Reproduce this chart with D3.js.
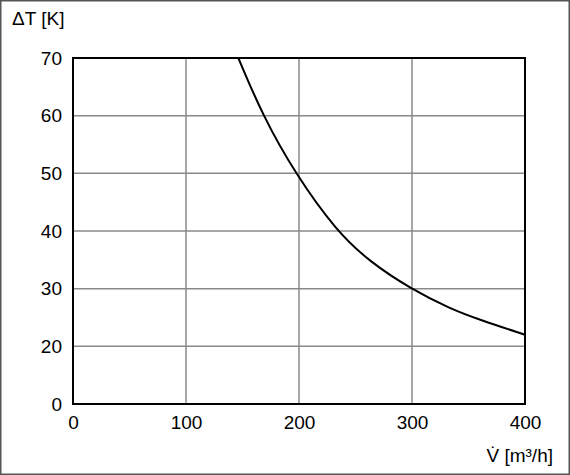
<!DOCTYPE html>
<html>
<head>
<meta charset="utf-8">
<script src="https://cdn.jsdelivr.net/npm/d3@7"></script>
<style>
  body { margin: 0; background: #fff; }
  text { font-family: "Liberation Sans Narrow", "Liberation Sans", Arial, sans-serif; fill: #000; }
</style>
</head>
<body>
<script>
// values
var volume = [146.3, 167.9, 196.5, 233, 263, 298.7, 334, 360, 400];
var deltaT = [70, 60, 50, 40, 34.6, 30, 26.5, 24.6, 22.0];
var xTicks = [0, 100, 200, 300, 400];
var yTicks = [10, 20, 30, 40, 50, 60, 70];
var yTickLabels = ["0", "20", "30", "40", "50", "60", "70"];

var W = 570, H = 475;
var plot = { left: 73, right: 525, top: 58, bottom: 404 };

var svg = d3.select("body").append("svg")
            .attr("width", W)
            .attr("height", H);

svg.append("rect")
   .attr("x", 0.75).attr("y", 0.75)
   .attr("width", W - 1.5).attr("height", H - 1.5)
   .attr("fill", "none")
   .attr("stroke", "#555")
   .attr("stroke-width", 1.5);

var x = d3.scaleLinear().domain([0, 400]).range([plot.left, plot.right]);
var y = d3.scaleLinear().domain([10, 70]).range([plot.bottom, plot.top]);

// grid
svg.append("g").selectAll("line")
   .data(xTicks.slice(1, -1))
   .enter().append("line")
   .attr("x1", function(d){return x(d);})
   .attr("x2", function(d){return x(d);})
   .attr("y1", plot.top).attr("y2", plot.bottom)
   .attr("stroke", "#8a8a8a").attr("stroke-width", 1.5);

svg.append("g").selectAll("line")
   .data(yTicks.slice(1, -1))
   .enter().append("line")
   .attr("y1", function(d){return y(d);})
   .attr("y2", function(d){return y(d);})
   .attr("x1", plot.left).attr("x2", plot.right)
   .attr("stroke", "#8a8a8a").attr("stroke-width", 1.5);

// axes (labels only, frame drawn separately)
var xAxis = d3.axisBottom(x).tickValues(xTicks).tickSize(0).tickPadding(12);
var gx = svg.append("g")
   .attr("transform", "translate(0," + plot.bottom + ")")
   .call(xAxis);
gx.select(".domain").remove();
gx.selectAll("text").style("font-size", "19px").style("font-family", null);

var yAxis = d3.axisLeft(y).tickValues(yTicks).tickSize(0).tickPadding(11)
   .tickFormat(function(d, i){return yTickLabels[i];});
var gy = svg.append("g")
   .attr("transform", "translate(" + plot.left + ",0)")
   .call(yAxis);
gy.select(".domain").remove();
gy.selectAll("text").style("font-size", "19px").style("font-family", null);

// curve
var line = d3.line()
   .x(function(d, i){return x(volume[i]);})
   .y(function(d){return y(d);})
   .curve(d3.curveBasis);

svg.append("path")
   .datum(deltaT)
   .attr("d", line)
   .attr("fill", "none")
   .attr("stroke", "#000")
   .attr("stroke-width", 2);

// frame
svg.append("rect")
   .attr("x", plot.left).attr("y", plot.top)
   .attr("width", plot.right - plot.left)
   .attr("height", plot.bottom - plot.top)
   .attr("fill", "none")
   .attr("stroke", "#000")
   .attr("stroke-width", 2);

// axis titles
svg.append("text")
   .attr("x", 12).attr("y", 25)
   .style("font-size", "19px")
   .text("ΔT [K]");

svg.append("text")
   .attr("x", 553).attr("y", 462)
   .attr("text-anchor", "end")
   .style("font-size", "19px")
   .text("V\u0307 [m³/h]");
</script>
</body>
</html>
